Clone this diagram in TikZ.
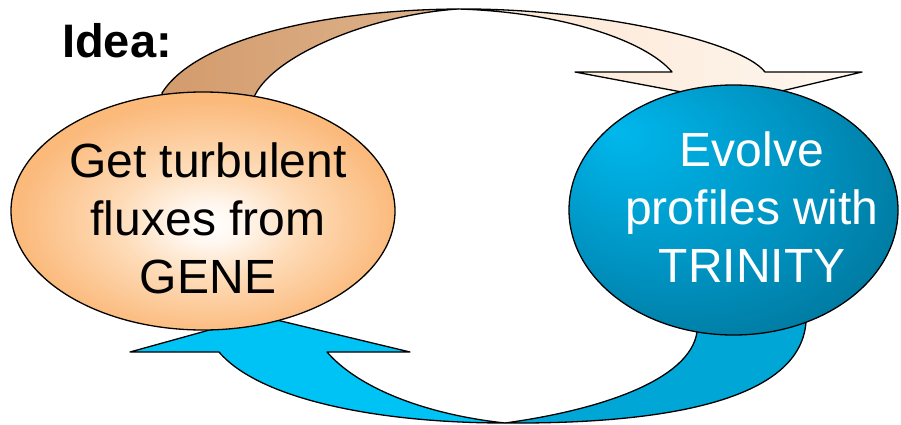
\documentclass[tikz,border=0pt]{standalone}
\usepackage{fontspec}
\setmainfont{Liberation Sans}
\usetikzlibrary{shapes.geometric}
\pgfdeclareradialshading{geneshade}{\pgfpoint{1bp}{-3bp}}{rgb(0bp)=(1,1,1); rgb(4bp)=(1,0.97,0.94); rgb(12bp)=(0.995,0.86,0.72); rgb(25bp)=(0.984,0.725,0.48); rgb(50bp)=(0.984,0.725,0.48)}
\pgfdeclareradialshading{trinshade}{\pgfpoint{-18bp}{16bp}}{rgb(0bp)=(0,0.72,0.93); rgb(22bp)=(0,0.57,0.75); rgb(42bp)=(0,0.42,0.55); rgb(50bp)=(0,0.41,0.54)}
\definecolor{tanL}{RGB}{211,155,108}
\definecolor{tanR}{RGB}{222,180,142}
\definecolor{peachL}{RGB}{252,229,208}
\definecolor{peachR}{RGB}{254,247,240}
\definecolor{cyanF}{RGB}{0,195,245}
\definecolor{cyanB}{RGB}{0,166,214}
\begin{document}
\begin{tikzpicture}[x=1pt, y=-1pt,
  blob/.style={ellipse, draw=black, line width=1.3pt, inner sep=0pt, shade},
  band/.style={draw=black, line width=1.3pt, line join=round},
  txt/.style={align=center, inner sep=0pt, font=\fontsize{48}{58}\selectfont},
  title/.style={inner sep=0pt, anchor=base west, font=\fontsize{47}{55}\selectfont\bfseries}]
\useasboundingbox (0,0) rectangle (901,425);
% top arrow: back part
\path[band, left color=tanL, right color=tanR]
  (166,106) -- (162,93) .. controls (195,40) and (320,10) .. (458,9)
  .. controls (370,15) and (275,55) .. (255,95) -- (250,106) -- cycle;
% top arrow: front part with head
\path[band, left color=peachL, right color=peachR]
  (458,9) .. controls (590,8) and (740,40) .. (765,72) -- (862,72) -- (735,102)
  -- (575,72) -- (672,72) .. controls (645,40) and (560,12) .. (458,9) -- cycle;
% bottom arrow: back part
\path[band, fill=cyanB]
  (505,423) .. controls (650,424) and (800,405) .. (806,322) -- (806,308) -- (697,308)
  -- (697,332) .. controls (690,380) and (600,410) .. (505,423) -- cycle;
% bottom arrow: front part with head
\path[band, fill=cyanF]
  (219,352) -- (130,352) -- (260,316) -- (410,352) -- (327,352)
  .. controls (360,390) and (430,415) .. (505,423)
  .. controls (380,423) and (260,400) .. (219,352) -- cycle;
% ellipses
\node[blob, shading=geneshade, minimum width=384pt, minimum height=238pt] (gene) at (203,211) {};
\node[blob, shading=trinshade, minimum width=329pt, minimum height=250pt] (trin) at (733.5,210) {};
% texts
\node[txt] (genetext) at (208,218.3) {Get turbulent\\fluxes from\\GENE};
\node[txt, text=white] (trintext) at (752,207.3) {Evolve\\profiles with\\TRINITY};
\node[title] (idea) at (62,58) {Idea:};
\end{tikzpicture}
\end{document}
